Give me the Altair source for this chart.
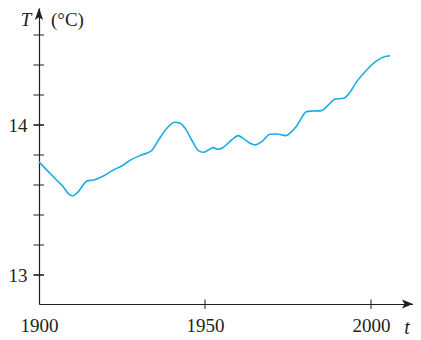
import altair as alt
import pandas as pd

# ---- data ----
years = [1900, 1903.3, 1905.8, 1907.3, 1908.8, 1910.1, 1911.3, 1914.7, 1916.4, 1919.4,
         1922.4, 1924.9, 1927.9, 1930.9, 1933.9, 1936.0, 1938.5, 1941.0, 1942.5, 1944.0,
         1946.0, 1948.0, 1949.5, 1951.0, 1952.3, 1954.0, 1955.5, 1958.0, 1960.0, 1961.5,
         1963.6, 1965.0, 1967.1, 1969.6, 1971.6, 1974.3, 1976.1, 1977.8, 1980.6, 1982.6,
         1985.1, 1987.1, 1989.2, 1991.7, 1993.2, 1995.7, 1998.7, 2001.7, 2004.2, 2005.7]
temps = [13.755, 13.678, 13.622, 13.589, 13.544, 13.527, 13.544, 13.629, 13.633, 13.660,
         13.700, 13.727, 13.771, 13.800, 13.829, 13.900, 13.978, 14.018, 14.011, 13.978,
         13.900, 13.829, 13.818, 13.833, 13.849, 13.838, 13.851, 13.900, 13.929, 13.911,
         13.878, 13.867, 13.889, 13.938, 13.940, 13.929, 13.956, 14.000, 14.089, 14.093,
         14.096, 14.133, 14.173, 14.178, 14.204, 14.289, 14.367, 14.427, 14.456, 14.462]

x_labels = [1900, 1950, 2000]
x_ticks = [1950, 2000]
y_labels = [13, 14]
y_major_ticks = [13, 14]
y_minor_ticks = [13.2, 13.4, 13.6, 13.8, 14.2, 14.4, 14.6]

x_domain = [1900, 2012.65]
y_domain = [12.8067, 14.78]

W, H = 374, 296
INK = "#231f20"
LINE = "#1aaae6"
FONT = "Liberation Serif"

xs = alt.Scale(domain=x_domain, nice=False, zero=False)
ys = alt.Scale(domain=y_domain, nice=False, zero=False)

df = pd.DataFrame({"year": years, "temp": temps})

line = alt.Chart(df).mark_line(color=LINE, strokeWidth=1.6, interpolate="monotone").encode(
    x=alt.X("year:Q", scale=xs,
            axis=alt.Axis(values=x_labels, format="d", ticks=False, grid=False, title=None,
                          domainColor=INK, domainWidth=1.2, labelFont=FONT, labelFontSize=19,
                          labelColor=INK, labelPadding=12, labelFlush=False)),
    y=alt.Y("temp:Q", scale=ys,
            axis=alt.Axis(values=y_labels, format="d", ticks=False, grid=False, title=None,
                          domainColor=INK, domainWidth=1.2, labelFont=FONT, labelFontSize=19,
                          labelColor=INK, labelPadding=12)),
)

ymaj = alt.Chart(pd.DataFrame({"v": y_major_ticks})).mark_rule(color=INK, strokeWidth=1.6).encode(
    y=alt.Y("v:Q", scale=ys), x=alt.value(-5.5), x2=alt.value(5))
ymin = alt.Chart(pd.DataFrame({"v": y_minor_ticks})).mark_rule(color=INK, strokeWidth=1).encode(
    y=alt.Y("v:Q", scale=ys), x=alt.value(-5.5), x2=alt.value(5))
xt = alt.Chart(pd.DataFrame({"v": x_ticks})).mark_rule(color=INK, strokeWidth=1).encode(
    x=alt.X("v:Q", scale=xs), y=alt.value(H - 4.5), y2=alt.value(H + 5))

arrow_right = "M1,0L-1,-0.8L-0.55,0L-1,0.8Z"
arrow_up = "M0,-1L0.7,1L0,0.55L-0.7,1Z"

ax_arrow = alt.Chart(pd.DataFrame({"k": [0]})).mark_point(
    shape=arrow_right, filled=True, color=INK, opacity=1, size=121).encode(
    x=alt.value(W - 5.5), y=alt.value(H))
ay_arrow = alt.Chart(pd.DataFrame({"k": [0]})).mark_point(
    shape=arrow_up, filled=True, color=INK, opacity=1, size=144).encode(
    x=alt.value(0), y=alt.value(6))

t_title = alt.Chart(pd.DataFrame({"s": ["T"]})).mark_text(
    font=FONT, fontSize=19, fontStyle="italic", color=INK, align="center", baseline="alphabetic").encode(
    text="s:N", x=alt.value(-13), y=alt.value(17.5))
unit_title = alt.Chart(pd.DataFrame({"s": ["(°C)"]})).mark_text(
    font=FONT, fontSize=19, color=INK, align="left", baseline="alphabetic").encode(
    text="s:N", x=alt.value(12), y=alt.value(17.5))
x_title = alt.Chart(pd.DataFrame({"s": ["t"]})).mark_text(
    font=FONT, fontSize=20, fontStyle="italic", color=INK, align="center", baseline="middle").encode(
    text="s:N", x=alt.value(368), y=alt.value(320))

chart = alt.layer(line, ymaj, ymin, xt, ax_arrow, ay_arrow, t_title, unit_title, x_title).properties(
    width=W, height=H,
    autosize=alt.AutoSizeParams(type="none"),
    padding={"left": 31, "top": 0, "right": 0, "bottom": 36},
).configure_view(stroke=None)

chart.save("out.html", embed_options={"renderer": "svg", "actions": False})
